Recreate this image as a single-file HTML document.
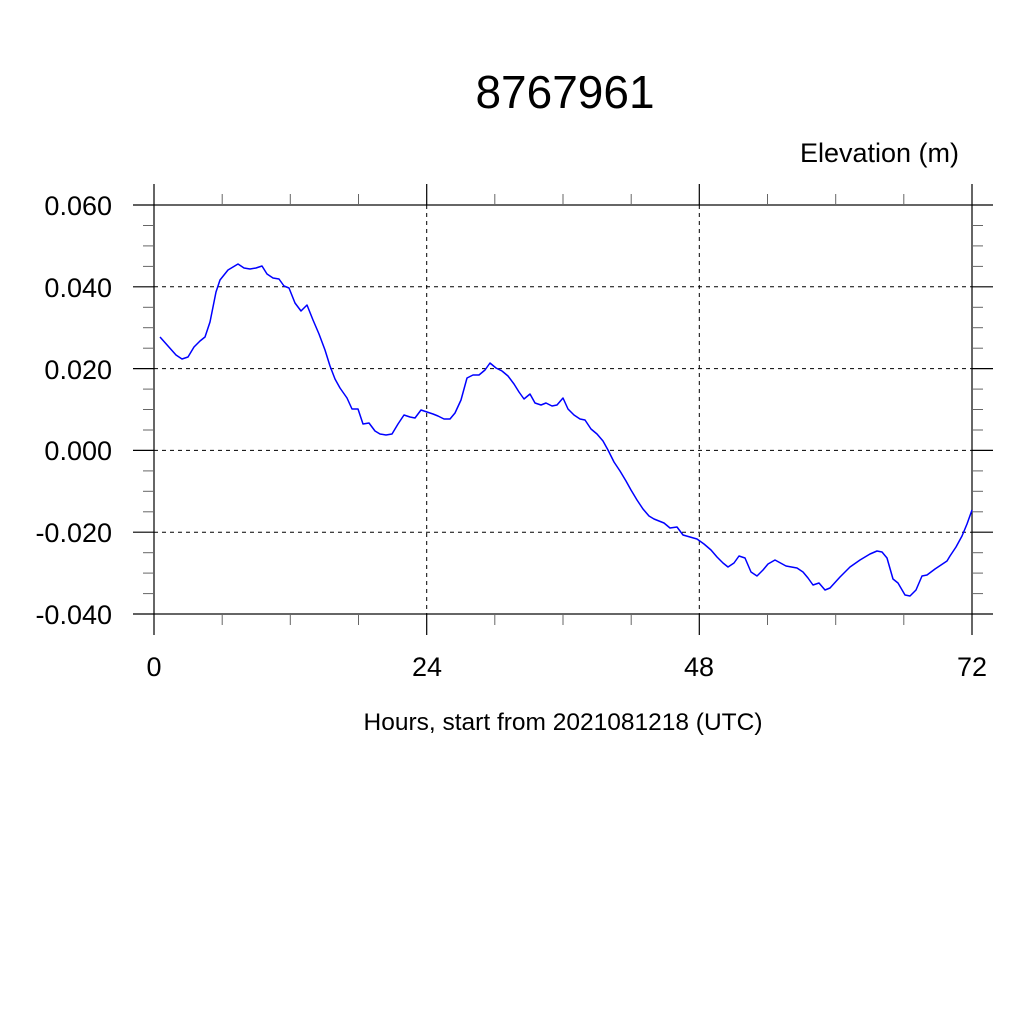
<!DOCTYPE html>
<html><head><meta charset="utf-8"><style>html,body{margin:0;padding:0;background:#fff}svg{display:block}</style></head>
<body>
<svg width="1024" height="1024" viewBox="0 0 1024 1024" xmlns="http://www.w3.org/2000/svg" font-family="Liberation Sans, Arial, sans-serif">
<rect width="1024" height="1024" fill="#fff"/>
<text x="565" y="108" font-size="46" text-anchor="middle">8767961</text>
<text x="959" y="162" font-size="27" text-anchor="end">Elevation (m)</text>
<g stroke="#000" stroke-width="1" stroke-dasharray="4,4">
<line x1="154" y1="286.8" x2="972" y2="286.8"/>
<line x1="154" y1="368.6" x2="972" y2="368.6"/>
<line x1="154" y1="450.4" x2="972" y2="450.4"/>
<line x1="154" y1="532.2" x2="972" y2="532.2"/>
<line x1="426.7" y1="205" x2="426.7" y2="614"/>
<line x1="699.3" y1="205" x2="699.3" y2="614"/>
</g>
<rect x="154" y="205" width="818" height="409" fill="none" stroke="#000" stroke-width="1.2"/>
<g stroke="#000" stroke-width="1.2">
<line x1="133" y1="205" x2="154" y2="205"/><line x1="972" y1="205" x2="993" y2="205"/>
<line x1="133" y1="286.8" x2="154" y2="286.8"/><line x1="972" y1="286.8" x2="993" y2="286.8"/>
<line x1="133" y1="368.6" x2="154" y2="368.6"/><line x1="972" y1="368.6" x2="993" y2="368.6"/>
<line x1="133" y1="450.4" x2="154" y2="450.4"/><line x1="972" y1="450.4" x2="993" y2="450.4"/>
<line x1="133" y1="532.2" x2="154" y2="532.2"/><line x1="972" y1="532.2" x2="993" y2="532.2"/>
<line x1="133" y1="614" x2="154" y2="614"/><line x1="972" y1="614" x2="993" y2="614"/>
<line x1="154" y1="184" x2="154" y2="205"/><line x1="154" y1="614" x2="154" y2="635"/>
<line x1="426.7" y1="184" x2="426.7" y2="205"/><line x1="426.7" y1="614" x2="426.7" y2="635"/>
<line x1="699.3" y1="184" x2="699.3" y2="205"/><line x1="699.3" y1="614" x2="699.3" y2="635"/>
<line x1="972" y1="184" x2="972" y2="205"/><line x1="972" y1="614" x2="972" y2="635"/>
</g>
<g stroke="#666" stroke-width="1">
<line x1="143" y1="225.5" x2="154" y2="225.5"/><line x1="972" y1="225.5" x2="983" y2="225.5"/>
<line x1="143" y1="245.9" x2="154" y2="245.9"/><line x1="972" y1="245.9" x2="983" y2="245.9"/>
<line x1="143" y1="266.4" x2="154" y2="266.4"/><line x1="972" y1="266.4" x2="983" y2="266.4"/>
<line x1="143" y1="307.3" x2="154" y2="307.3"/><line x1="972" y1="307.3" x2="983" y2="307.3"/>
<line x1="143" y1="327.7" x2="154" y2="327.7"/><line x1="972" y1="327.7" x2="983" y2="327.7"/>
<line x1="143" y1="348.2" x2="154" y2="348.2"/><line x1="972" y1="348.2" x2="983" y2="348.2"/>
<line x1="143" y1="389.1" x2="154" y2="389.1"/><line x1="972" y1="389.1" x2="983" y2="389.1"/>
<line x1="143" y1="409.5" x2="154" y2="409.5"/><line x1="972" y1="409.5" x2="983" y2="409.5"/>
<line x1="143" y1="430" x2="154" y2="430"/><line x1="972" y1="430" x2="983" y2="430"/>
<line x1="143" y1="470.9" x2="154" y2="470.9"/><line x1="972" y1="470.9" x2="983" y2="470.9"/>
<line x1="143" y1="491.3" x2="154" y2="491.3"/><line x1="972" y1="491.3" x2="983" y2="491.3"/>
<line x1="143" y1="511.8" x2="154" y2="511.8"/><line x1="972" y1="511.8" x2="983" y2="511.8"/>
<line x1="143" y1="552.7" x2="154" y2="552.7"/><line x1="972" y1="552.7" x2="983" y2="552.7"/>
<line x1="143" y1="573.1" x2="154" y2="573.1"/><line x1="972" y1="573.1" x2="983" y2="573.1"/>
<line x1="143" y1="593.6" x2="154" y2="593.6"/><line x1="972" y1="593.6" x2="983" y2="593.6"/>
<line x1="222.2" y1="194" x2="222.2" y2="205"/><line x1="222.2" y1="614" x2="222.2" y2="625"/>
<line x1="290.3" y1="194" x2="290.3" y2="205"/><line x1="290.3" y1="614" x2="290.3" y2="625"/>
<line x1="358.5" y1="194" x2="358.5" y2="205"/><line x1="358.5" y1="614" x2="358.5" y2="625"/>
<line x1="494.8" y1="194" x2="494.8" y2="205"/><line x1="494.8" y1="614" x2="494.8" y2="625"/>
<line x1="563" y1="194" x2="563" y2="205"/><line x1="563" y1="614" x2="563" y2="625"/>
<line x1="631.2" y1="194" x2="631.2" y2="205"/><line x1="631.2" y1="614" x2="631.2" y2="625"/>
<line x1="767.5" y1="194" x2="767.5" y2="205"/><line x1="767.5" y1="614" x2="767.5" y2="625"/>
<line x1="835.7" y1="194" x2="835.7" y2="205"/><line x1="835.7" y1="614" x2="835.7" y2="625"/>
<line x1="903.8" y1="194" x2="903.8" y2="205"/><line x1="903.8" y1="614" x2="903.8" y2="625"/>
</g>
<g font-size="27" text-anchor="end">
<text x="112" y="215">0.060</text>
<text x="112" y="297">0.040</text>
<text x="112" y="379">0.020</text>
<text x="112" y="460">0.000</text>
<text x="112" y="542">-0.020</text>
<text x="112" y="624">-0.040</text>
</g>
<g font-size="27" text-anchor="middle">
<text x="154" y="676">0</text>
<text x="427" y="676">24</text>
<text x="699" y="676">48</text>
<text x="972" y="676">72</text>
</g>
<text x="563" y="730" font-size="24.5" text-anchor="middle">Hours, start from 2021081218 (UTC)</text>
<polyline fill="none" stroke="#0000ff" stroke-width="1.5" stroke-linejoin="round" points="160,337 168,346 176,355 182,359 188,357 194,347 200,341 205,337 210,322 216,292 220,280 228,270 238,264 244,268 250,269 256,268 262,266 267,274 273,278 279,279 284,286 289,288 295,303 301,311 307,305 313,320 319,334 325,350 330,366 335,379 340,388 347,398 352,409 358,409 363,424 369,423 375,431 380,434 386,435 392,434 398,424 404,415 410,417 415,418 421,410 427,412 433,414 438,416 444,419 450,419 455,413 461,400 467,378 473,375 479,375 485,370 490,363 496,368 502,371 508,376 514,384 519,392 524,399 530,394 535,403 541,405 546,403 552,406 557,405 563,398 568,409 574,415 580,419 585,420 591,429 597,434 603,441 608,450 614,462 620,471 626,481 631,490 637,500 643,509 649,516 654,519 664,523 670,528 677,527 683,535 697,539 704,544 711,550 717,557 723,563 728,567 734,563 739,556 745,558 751,572 757,576 763,570 768,564 775,560 786,566 797,568 803,572 808,578 813,585 819,583 825,590 830,588 840,577 850,567 860,560 870,554 877,551 882,552 887,558 893,579 898,583 905,595 910,596 916,590 922,576 927,575 935,569 947,561 950,556 956,547 962,536 967,524 972,510"/>
</svg>
</body></html>
